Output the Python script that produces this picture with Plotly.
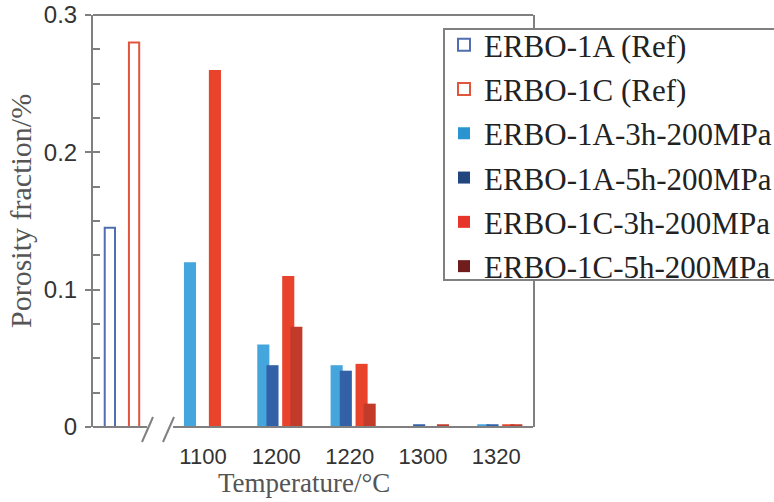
import plotly.graph_objects as go

# ---------------- data ----------------
temperatures = ["1100", "1200", "1220", "1300", "1320"]
erbo_1a_ref = 0.145
erbo_1c_ref = 0.28
erbo_1a_3h = [0.12, 0.06, 0.045, None, 0.002]
erbo_1a_5h = [None, 0.045, 0.041, 0.002, 0.002]
erbo_1c_3h = [0.26, 0.11, 0.046, None, 0.002]
erbo_1c_5h = [None, 0.073, 0.017, 0.002, 0.002]

# ---------------- style ----------------
AX = "#808080"
SERIF = "Liberation Serif, Times New Roman, serif"
SANS = "Liberation Sans, Arial, sans-serif"
ref_slot = -1
cat_pos = list(range(len(temperatures)))
bar_w = 0.165
ref_w = 0.14

series = [
    dict(name="ERBO-1A-3h-200MPa", y=erbo_1a_3h, color="#45a5dd", legend="#2a93d2", off=-0.26),
    dict(name="ERBO-1A-5h-200MPa", y=erbo_1a_5h, color="#3261a8", legend="#22457f", off=-0.135),
    dict(name="ERBO-1C-3h-200MPa", y=erbo_1c_3h, color="#e8432b", legend="#e6362b", off=0.08),
    dict(name="ERBO-1C-5h-200MPa", y=erbo_1c_5h, color="#c23a2a", legend="#6e1c1c", off=0.19),
]

fig = go.Figure()

# reference bars (outlined)
fig.add_trace(go.Bar(x=[ref_slot], y=[erbo_1a_ref], width=ref_w, offset=-0.34,
                     marker=dict(color="white", line=dict(color="#4f6fb0", width=2)),
                     showlegend=False))
fig.add_trace(go.Bar(x=[ref_slot], y=[erbo_1c_ref], width=ref_w, offset=-0.01,
                     marker=dict(color="white", line=dict(color="#e0553c", width=2)),
                     showlegend=False))
for s in series:
    fig.add_trace(go.Bar(x=cat_pos, y=s["y"], width=bar_w, offset=s["off"],
                         marker=dict(color=s["color"], line=dict(width=0)),
                         showlegend=False))

# legend entries
legend_items = [
    ("ERBO-1A (Ref)", "white", "#4f6fb0"),
    ("ERBO-1C (Ref)", "white", "#e0553c"),
] + [(s["name"], s["legend"], s["legend"]) for s in series]
for i, (name, fill, line) in enumerate(legend_items):
    fig.add_trace(go.Bar(x=[None], y=[None], name=name, legendgroup=f"g{i}",
                         marker=dict(color=fill, line=dict(color=line, width=2 if fill == "white" else 0))))

# invisible trace for inner tick axis
fig.add_trace(go.Scatter(x=[None], y=[None], yaxis="y2", showlegend=False))

W, H = 774, 502
L, R, T, B = 93, 241, 15, 75
pw, ph = W - L - R, H - T - B


def px2x(px):
    return (px - L) / pw


def px2y(py):
    return (H - B - py) / ph


line = dict(color=AX, width=2)
shapes = [
    dict(type="line", xref="paper", yref="paper", x0=0, x1=1, y0=1, y1=1, line=line),
    dict(type="line", xref="paper", yref="paper", x0=0, x1=px2x(147), y0=0, y1=0, line=line),
    dict(type="line", xref="paper", yref="paper", x0=px2x(173), x1=1, y0=0, y1=0, line=line),
    dict(type="line", xref="paper", yref="paper", x0=px2x(142), x1=px2x(153), y0=px2y(442), y1=px2y(417), line=line),
    dict(type="line", xref="paper", yref="paper", x0=px2x(163), x1=px2x(174), y0=px2y(442), y1=px2y(417), line=line),
    # legend box
    dict(type="rect", xref="paper", yref="paper", x0=px2x(444), x1=px2x(800), y0=px2y(280), y1=px2y(29),
         fillcolor="white", line=line),
]

annotations = [
    dict(text="Porosity fraction/%", xref="paper", yref="paper", x=px2x(20), y=px2y(211),
         textangle=-90, showarrow=False, font=dict(family=SERIF, size=30, color="#555555"),
         xanchor="center", yanchor="middle"),
    dict(text="Temperature/°C", xref="paper", yref="paper", x=px2x(304), y=px2y(483),
         showarrow=False, font=dict(family=SERIF, size=27, color="#555555"),
         xanchor="center", yanchor="middle"),
]

fig.update_layout(
    width=W, height=H,
    margin=dict(l=L, r=R, t=T, b=B, autoexpand=False),
    paper_bgcolor="white", plot_bgcolor="white",
    barmode="overlay",
    shapes=shapes,
    annotations=annotations,
    xaxis=dict(range=[-1.5, 4.5], tickvals=cat_pos, ticktext=temperatures,
               showline=False, showgrid=False, zeroline=False, ticks="",
               ticklabelstandoff=14,
               tickfont=dict(family=SANS, size=22, color="#333333")),
    yaxis=dict(range=[0, 0.3], tickvals=[0, 0.1, 0.2, 0.3], ticktext=["0", "0.1", "0.2", "0.3"],
               ticks="outside", ticklen=6, tickwidth=2, tickcolor=AX,
               showline=True, linecolor=AX, linewidth=2, mirror=True,
               showgrid=False, zeroline=False, ticklabelstandoff=3,
               tickfont=dict(family=SANS, size=24, color="#333333")),
    yaxis2=dict(range=[0, 0.3], overlaying="y", side="left", anchor="x",
                tick0=0, dtick=0.025, ticks="inside", ticklen=7, tickwidth=2, tickcolor=AX,
                showticklabels=False, showgrid=False, zeroline=False, showline=False),
    legend=dict(x=px2x(444), y=px2y(18), xanchor="left", yanchor="top",
                bgcolor="rgba(0,0,0,0)", borderwidth=0,
                font=dict(family=SERIF, size=31, color="#222222"),
                tracegroupgap=1, traceorder="grouped"),
)

fig.write_html("out.html", config={"displayModeBar": False},
               post_script="document.body.style.margin='0';")
